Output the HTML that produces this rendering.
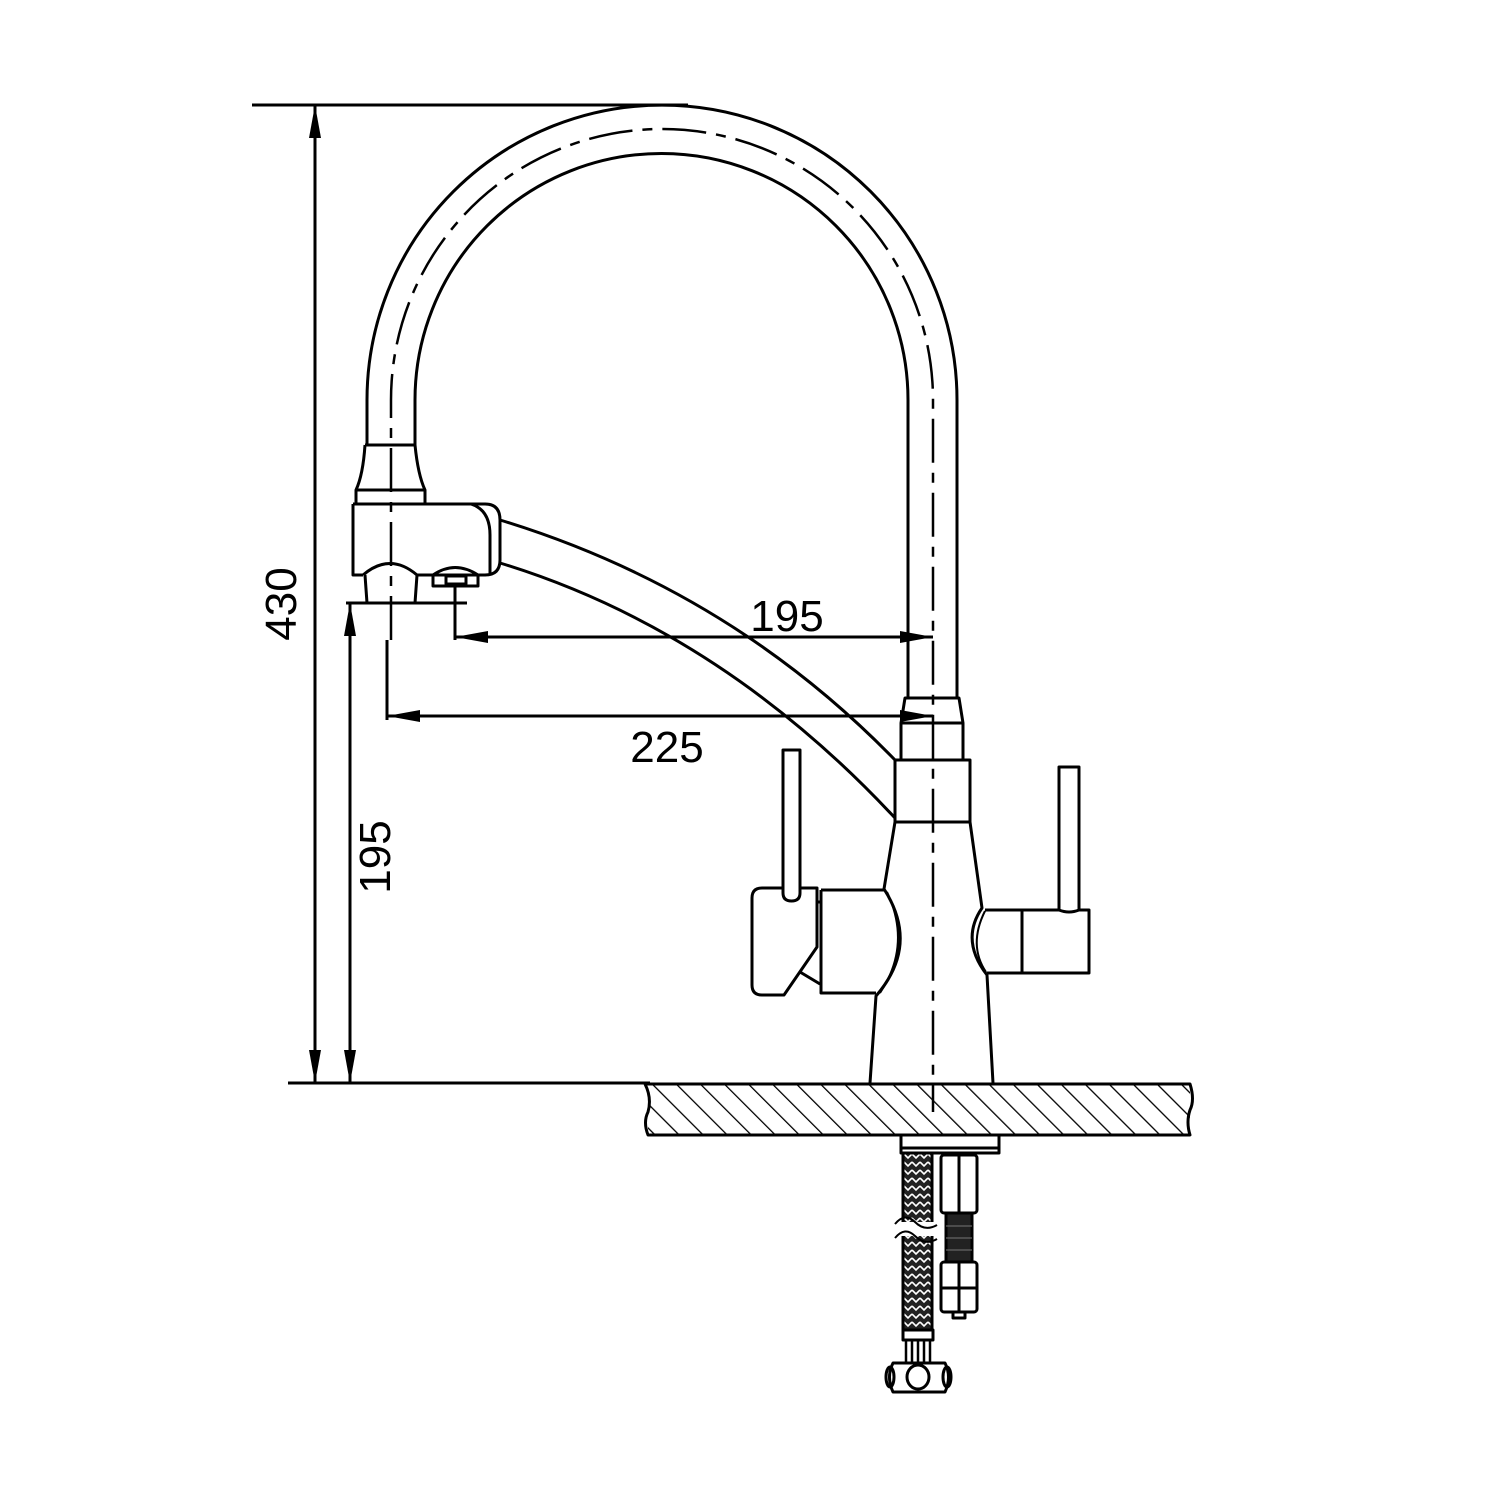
<!DOCTYPE html>
<html><head><style>html,body{margin:0;padding:0;background:#fff}svg{display:block}</style></head>
<body>
<svg width="1500" height="1500" viewBox="0 0 1500 1500" xmlns="http://www.w3.org/2000/svg">
<defs>
<pattern id="h" patternUnits="userSpaceOnUse" width="17" height="17" patternTransform="rotate(-45)">
<line x1="0" y1="0" x2="0" y2="17" stroke="#000" stroke-width="2.6"/>
</pattern>
<pattern id="br" patternUnits="userSpaceOnUse" width="8" height="8">
<rect width="8" height="8" fill="#222"/>
<path d="M0,2 L4,6 L8,2" fill="none" stroke="#fff" stroke-width="1.6"/>
</pattern>
</defs>
<g fill="none" stroke="#000" stroke-width="3" stroke-linejoin="round">
<path d="M367,445 L367,400 A295,295 0 0 1 957,400 L957,698"/>
<path d="M415,445 L415,400 A246.5,246.5 0 0 1 908,400 L908,698"/>
<path d="M391,640 L391,400 A271,271 0 0 1 933,400 L933,1112" stroke-width="2.5" stroke-dasharray="44,10,10,10"/>
<path d="M365,445 L415,445 M365,445 Q363,475 356,490 L356,504 M415,445 Q418,475 425,490 L425,504 M356,490 L425,490"/>
<path d="M353,504 L485,504 Q500,504 500,520 L500,560 Q500,575 485,575 L417,575 M353,504 L353,575 L363,575 M471,504 Q490,510 490,535 L490,575"/>
<path d="M363,575 Q390,552 417,575 L415,603 M365,575 L367,603 M346,603 L467,603"/>
<path d="M433,575 Q455,560 478,575 L478,586 L433,586 Z M446,576 L466,576 L466,584 L446,584 Z"/>
<path d="M500,520 Q730,590 895,760"/>
<path d="M500,563 Q720,630 895,818"/>
<path d="M905,698 L959,698 L963,723 L901,723 Z M901,723 L901,760 M963,723 L963,760"/>
<rect x="895" y="760" width="75" height="62"/>
<path d="M895,822 L884,889 Q920,945 876,996 L870,1083"/>
<path d="M970,822 L982,908 Q960,940 987,975 L993,1083"/>
<path d="M887,892 Q912,945 880,993" stroke-width="2"/>
<path d="M985,911 Q968,945 986,972" stroke-width="2"/>
<path d="M821,890 L884,890 M821,890 L821,993 L876,993"/>
<path d="M762,888 L817,888 L817,947 L784,995 L762,995 Q752,995 752,985 L752,898 Q752,888 762,888 Z"/>
<path d="M800,972 L820,984 M817,902 L821,902"/>
<path d="M783,750 L800,750 L800,893 Q800,901 791.5,901 Q783,901 783,893 Z" fill="#fff"/>
<path d="M985,910 L1089,910 L1089,973 L987,973 M1022,910 L1022,973"/>
<path d="M1059,767 L1079,767 L1079,910 Q1069,914 1059,910 Z" fill="#fff"/>
<rect x="648" y="1084" width="542" height="51" fill="url(#h)" stroke="none"/>
<path d="M645,1084 L1190,1084 Q1195,1100 1190,1110 Q1186,1122 1190,1135 L648,1135 Q643,1122 648,1112 Q652,1098 645,1084"/>
<path d="M288,1083 L650,1083"/>
<rect x="901" y="1135" width="98" height="18" fill="#fff"/>
<path d="M901,1148 L999,1148"/>
<rect x="903" y="1153" width="29" height="177" fill="url(#br)"/>
<path d="M903,1153 L903,1330 M932,1153 L932,1330"/>
<rect x="895" y="1222" width="45" height="14" fill="#fff" stroke="none"/>
<path d="M895,1224 Q905,1212 915,1222 Q925,1232 937,1225 M895,1238 Q905,1226 915,1236 Q925,1246 937,1239" stroke-width="2"/>
<rect x="903" y="1330" width="30" height="10"/>
<path d="M906,1340 L906,1362 M912,1340 L912,1362 M918,1340 L918,1362 M924,1340 L924,1362 M930,1340 L930,1362" stroke-width="2.5"/>
<path d="M893,1363 L945,1363 Q952,1377 945,1392 L893,1392 Q886,1377 893,1363 Z"/>
<ellipse cx="918" cy="1377" rx="11" ry="12"/>
<ellipse cx="890" cy="1377" rx="4" ry="10"/>
<ellipse cx="947" cy="1377" rx="4" ry="10"/>
<rect x="941" y="1155" width="36" height="58" rx="3"/>
<path d="M959,1155 L959,1213"/>
<rect x="946" y="1213" width="26" height="50" fill="#222"/>
<path d="M946,1226 L972,1226 M946,1238 L972,1238 M946,1250 L972,1250" stroke="#777" stroke-width="1"/>
<rect x="941" y="1262" width="36" height="50" rx="3" fill="#fff"/>
<path d="M941,1288 L977,1288 M959,1262 L959,1312"/>
<rect x="953" y="1312" width="12" height="6"/>
</g>
<g stroke="#000" stroke-width="3" fill="none">
<path d="M252,105 L688,105"/>
<path d="M315,105 L315,1083"/>
<path d="M350,603 L350,1083"/>
<path d="M455,586 L455,640"/>
<path d="M455,637 L933,637"/>
<path d="M387,640 L387,720"/>
<path d="M387,716 L933,716"/>
</g>
<g fill="#000">
<path d="M315,105 L309,138 L321,138 Z"/>
<path d="M315,1083 L309,1050 L321,1050 Z"/>
<path d="M350,603 L344,636 L356,636 Z"/>
<path d="M350,1083 L344,1050 L356,1050 Z"/>
<path d="M455,637 L488,631 L488,643 Z"/>
<path d="M933,637 L900,631 L900,643 Z"/>
<path d="M387,716 L420,710 L420,722 Z"/>
<path d="M933,716 L900,710 L900,722 Z"/>
</g>
<g font-family="Liberation Sans, Arial, sans-serif" font-size="44" fill="#000" text-anchor="middle">
<text x="787" y="631">195</text>
<text x="667" y="762">225</text>
<text transform="translate(296,604) rotate(-90)">430</text>
<text transform="translate(390,857) rotate(-90)">195</text>
</g>
</svg>
</body></html>
